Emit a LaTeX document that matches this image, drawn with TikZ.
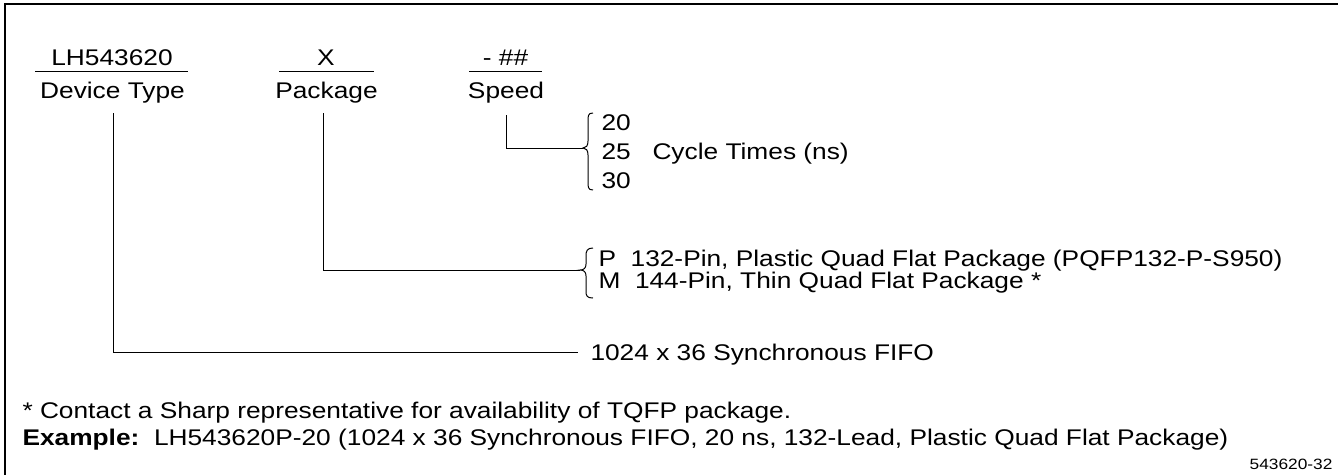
\documentclass[tikz,border=0pt]{standalone}
\usepackage{fontspec}
\setmainfont[FakeStretch=1.16]{Liberation Sans}
\tikzset{every picture/.style={line width=0.75pt}}
\tikzset{lbl/.style={inner sep=0pt, font=\fontsize{17}{20}\selectfont},
  tag/.style={inner sep=0pt, font=\fontsize{11.2}{13}\selectfont}}

\begin{document}
\begin{tikzpicture}[x=0.75pt,y=0.75pt,yscale=-1,xscale=1]
\useasboundingbox (0,0) rectangle (1338,475);

%Frame
\draw [line width=1.5]  (1338,4) -- (5,4) -- (5,475) ;

% Text Node
\draw (112,65) node [anchor=base][lbl] (devcode) {LH543620};
% Text Node
\draw (112.5,98) node [anchor=base][lbl] (devtype) {Device Type};
% Text Node
\draw (326,65) node [anchor=base][lbl] (pkgcode) {X};
% Text Node
\draw (326.5,98) node [anchor=base][lbl] (pkg) {Package};
% Text Node
\draw (505.5,65) node [anchor=base][lbl] (spdcode) {- \#\#};
% Text Node
\draw (506,98) node [anchor=base][lbl] (spd) {Speed};

%Straight Lines
\draw    (35,71.7) -- (188,71.7) ;
\draw    (279,71.7) -- (374,71.7) ;
\draw    (469,71.7) -- (542,71.7) ;

% Connector ends
\coordinate (devtop) at (113,113);
\coordinate (pkgtop) at (323,113);
\coordinate (spdtop) at (506,115);
\coordinate (spdtip) at (583,148);
\coordinate (pkgtip) at (580,270);
\coordinate (devend) at (578,352);

%Straight Lines
\draw    (spdtop) |- (spdtip) ;
\draw    (pkgtop) |- (pkgtip) ;
\draw    (devtop) |- (devend) ;

%Braces
\draw    (593,113) .. controls (588,113) and (588,116) .. (588,121) -- (588,141) .. controls (588,146) and (586,148) .. (spdtip) .. controls (586,148) and (588,150) .. (588,155) -- (588,182) .. controls (588,187) and (588,190) .. (593,190) ;
\draw    (593,248) .. controls (587,248) and (586,251) .. (586,256) -- (586,264) .. controls (586,268) and (584,270) .. (pkgtip) .. controls (584,270) and (586,272) .. (586,276) -- (586,291) .. controls (586,296) and (587,298) .. (593,298) ;

% Text Node
\draw (601,130) node [anchor=base west][lbl] (t20) {20};
% Text Node
\draw (601,159) node [anchor=base west][lbl] (t25) {25};
% Text Node
\draw (601,188) node [anchor=base west][lbl] (t30) {30};
% Text Node
\draw (652,159) node [anchor=base west][lbl] (cycle) {Cycle Times (ns)};
% Text Node
\draw (598,266) node [anchor=base west][lbl] (pqfp) {P\ \ 132-Pin, Plastic Quad Flat Package (PQFP132-P-S950)};
% Text Node
\draw (598,288) node [anchor=base west][lbl] (tqfp) {M\ \ 144-Pin, Thin Quad Flat Package *};
% Text Node
\draw (590,360) node [anchor=base west][lbl] (fifo) {1024 x 36 Synchronous FIFO};
% Text Node
\draw (22,418) node [anchor=base west][lbl] (note) {* Contact a Sharp representative for availability of TQFP package.};
% Text Node
\draw (22,445) node [anchor=base west][lbl] (expl) {\textbf{Example:}\ \ LH543620P-20 (1024 x 36 Synchronous FIFO, 20 ns, 132-Lead, Plastic Quad Flat Package)};
% Text Node
\draw (1333,469) node [anchor=base east][tag] (figno) {543620-32};

\end{tikzpicture}
\end{document}
